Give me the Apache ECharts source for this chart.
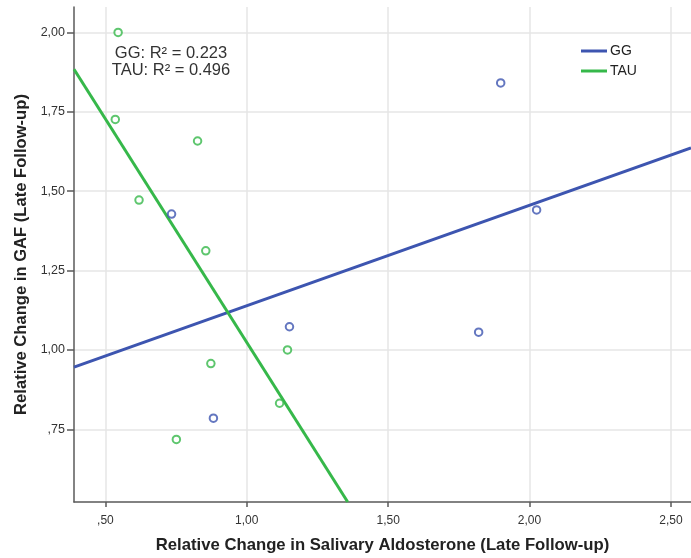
<!DOCTYPE html>
<html>
<head>
<meta charset="utf-8">
<script src="https://cdn.jsdelivr.net/npm/echarts@6/dist/echarts.min.js"></script>
<style>html,body{margin:0;padding:0;background:#fff;}#c{width:691px;height:558px;}</style>
</head>
<body>
<div id="c"></div>
<script>
// Data
const ggX = [0.734, 0.882, 1.151, 1.820, 1.898, 2.025];
const ggY = [1.428, 0.785, 1.073, 1.056, 1.841, 1.441];
const tauX = [0.545, 0.535, 0.826, 0.619, 0.855, 1.144, 0.873, 1.116, 0.751];
const tauY = [2.000, 1.726, 1.658, 1.472, 1.312, 1.000, 0.957, 0.832, 0.718];
// Fit lines (end points)
const ggFitX = [0.389, 2.571];
const ggFitY = [0.946, 1.636];
const tauFitX = [0.389, 1.357];
const tauFitY = [1.884, 0.521];
const xTicks = [0.5, 1.0, 1.5, 2.0, 2.5];
const yTicks = [0.75, 1.0, 1.25, 1.5, 1.75, 2.0];
const r2Labels = ['GG: R\u00b2 = 0.223', 'TAU: R\u00b2 = 0.496'];

const zip = (a, b) => a.map((v, i) => [v, b[i]]);
const fmt = v => v.toFixed(2).replace('.', ',').replace(/^0,/, ',');
const BLUE = '#3d55b0', GREEN = '#36b84a', AXIS = '#5a5a5a', GRID = '#e6e6e6';
const FONT = '"Liberation Sans", Arial, sans-serif';

const chart = echarts.init(document.getElementById('c'));
chart.setOption({
  animation: false,
  backgroundColor: '#fff',
  textStyle: { fontFamily: FONT },
  grid: { left: 74, top: 7, right: 0, bottom: 56, containLabel: false, outerBoundsMode: 'none' },
  xAxis: {
    type: 'value', min: 0.389, max: 2.571,
    name: 'Relative Change in Salivary Aldosterone (Late Follow-up)',
    nameLocation: 'middle', nameGap: 43,
    nameTextStyle: { fontFamily: FONT, fontSize: 16.7, fontWeight: 'bold', color: '#222', verticalAlign: 'middle' },
    axisLine: { show: true, onZero: false, lineStyle: { color: AXIS, width: 1.5 } },
    axisTick: { show: true, customValues: xTicks, length: 5, lineStyle: { color: AXIS, width: 1.5 } },
    axisLabel: { customValues: xTicks, formatter: fmt, fontFamily: FONT, fontSize: 12, color: '#333', margin: 13 },
    splitLine: { show: true, lineStyle: { color: GRID, width: 1.5 } }
  },
  yAxis: {
    type: 'value', min: 0.521, max: 2.08,
    name: 'Relative Change in GAF (Late Follow-up)',
    nameLocation: 'middle', nameGap: 51, nameRotate: 90,
    nameTextStyle: { fontFamily: FONT, fontSize: 16.6, fontWeight: 'bold', color: '#222', verticalAlign: 'middle' },
    axisLine: { show: true, onZero: false, lineStyle: { color: AXIS, width: 1.5 } },
    axisTick: { show: true, customValues: yTicks, length: 7, lineStyle: { color: AXIS, width: 1.5 } },
    axisLabel: { customValues: yTicks, formatter: fmt, fontFamily: FONT, fontSize: 12.5, color: '#333', margin: 9 },
    splitLine: { show: true, lineStyle: { color: GRID, width: 1.5 } }
  },
  legend: {
    data: ['GG', 'TAU'],
    orient: 'vertical', left: 577, top: 36,
    backgroundColor: '#fff',
    padding: [8, 30, 14, 4],
    itemGap: 6, itemWidth: 26, itemHeight: 3, icon: 'rect',
    textStyle: { fontFamily: FONT, fontSize: 14, color: '#222', padding: [0, 0, 0, -2] }
  },
  graphic: [
    { type: 'text', x: 171, y: 53, style: { text: r2Labels[0], font: '16.5px ' + FONT, fill: '#333', align: 'center', verticalAlign: 'middle' } },
    { type: 'text', x: 171, y: 70.5, style: { text: r2Labels[1], font: '16.5px ' + FONT, fill: '#333', align: 'center', verticalAlign: 'middle' } }
  ],
  series: [
    { name: 'GG', type: 'line', data: zip(ggFitX, ggFitY), showSymbol: false, symbol: 'none',
      lineStyle: { color: BLUE, width: 3 }, itemStyle: { color: BLUE }, clip: true, z: 3 },
    { name: 'TAU', type: 'line', data: zip(tauFitX, tauFitY), showSymbol: false, symbol: 'none',
      lineStyle: { color: GREEN, width: 3 }, itemStyle: { color: GREEN }, clip: true, z: 3 },
    { name: 'GG points', type: 'scatter', data: zip(ggX, ggY), symbol: 'emptyCircle', symbolSize: 7.5,
      itemStyle: { color: BLUE, borderColor: BLUE, borderWidth: 2.2 }, z: 4 },
    { name: 'TAU points', type: 'scatter', data: zip(tauX, tauY), symbol: 'emptyCircle', symbolSize: 7.5,
      itemStyle: { color: GREEN, borderColor: GREEN, borderWidth: 2.2 }, z: 4 }
  ]
});
</script>
</body>
</html>
